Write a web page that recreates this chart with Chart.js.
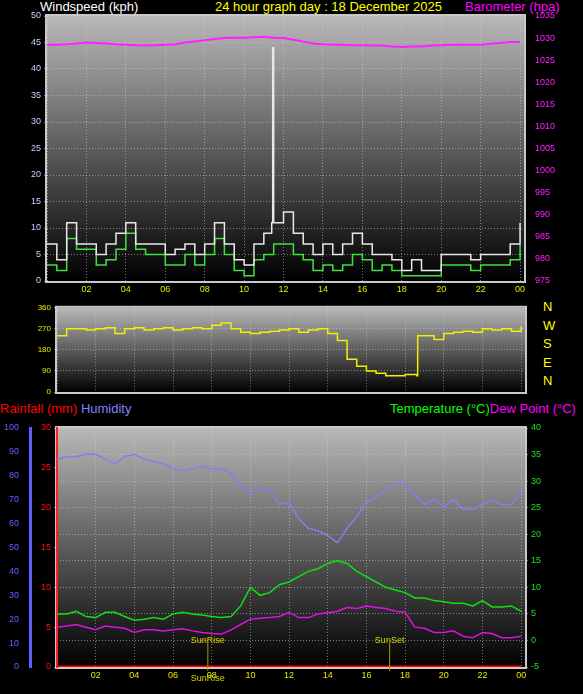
<!DOCTYPE html>
<html><head><meta charset="utf-8">
<script src="https://cdn.jsdelivr.net/npm/chart.js@4"></script>
<style>
body{margin:0;background:#000;width:583px;height:694px;overflow:hidden;position:relative;font-family:"Liberation Sans",Arial,sans-serif}
canvas{position:absolute;left:0}
.t{position:absolute;font-size:13px;white-space:nowrap}
</style></head><body>
<div class="t" style="left:40px;top:-1px;color:#fff">Windspeed (kph)</div>
<div class="t" style="left:215px;top:-1px;color:#ffff00">24 hour graph day : 18 December 2025</div>
<div class="t" style="left:465px;top:-1px;color:#ff00ff">Barometer (hpa)</div>
<div class="t" style="left:543px;top:298px;color:#ffff00;font-size:13px;line-height:18.5px">N<br>W<br>S<br>E<br>N</div>
<div class="t" style="left:0px;top:401px;color:#ff0000">Rainfall (mm) <span style="color:#8080ff">Humidity</span></div>
<div class="t" style="left:390px;top:401px;color:#00ff00">Temperature (°C)<span style="color:#ff00ff">Dew Point (°C)</span></div>
<canvas id="c1" width="583" height="300" style="top:0"></canvas>
<canvas id="c2" width="583" height="100" style="top:300px"></canvas>
<canvas id="c3" width="583" height="299" style="top:395px"></canvas>
<script>
const hours=[0,0.5,1,1.5,2,2.5,3,3.5,4,4.5,5,5.5,6,6.5,7,7.5,8,8.5,9,9.5,10,10.5,11,11.5,12,12.5,13,13.5,14,14.5,15,15.5,16,16.5,17,17.5,18,18.5,19,19.5,20,20.5,21,21.5,22,22.5,23,23.5,24];
const hourTicks=[0,2,4,6,8,10,12,14,16,18,20,22,24];
const windAvg=[3,2,8,6,6,3,4,6,9,6,5,5,3,3,5,3,5,8,5,2,1,4,5,7,7,5,4,2,3,2,3,5,4,2,3,2,1,1,1,1,3,3,3,2,3,3,3,4,7];
const gustHours=[0,0.5,1,1.5,2,2.5,3,3.5,4,4.5,5,5.5,6,6.5,7,7.5,8,8.5,9,9.5,10,10.5,11,11.4,11.45,11.5,12,12.5,13,13.5,14,14.5,15,15.5,16,16.5,17,17.5,18,18.5,19,19.5,20,20.5,21,21.5,22,22.5,23,23.5,24];
const windGust=[7,4,11,7,7,5,7,9,11,7,7,7,5,6,7,5,7,11,7,4,3,7,9,11,44,11,13,9,7,5,7,5,7,9,7,5,5,4,2,4,2,2,5,5,5,4,5,5,5,7,11];
const baro=[1028.5,1028.5,1028.6,1028.8,1029,1028.9,1028.8,1028.6,1028.5,1028.4,1028.3,1028.4,1028.5,1028.6,1029,1029.2,1029.5,1029.8,1030,1030.1,1030.1,1030.2,1030.3,1030.1,1030,1029.6,1029.2,1028.8,1028.6,1028.5,1028.5,1028.4,1028.4,1028.3,1028.3,1028.1,1028,1028.1,1028.1,1028.3,1028.4,1028.5,1028.5,1028.5,1028.5,1028.7,1028.9,1029.1,1029.1];
const windDir=[240,270,270,265,270,275,250,270,275,265,270,275,265,270,275,270,285,295,270,255,250,255,260,265,270,255,265,270,250,220,140,110,90,80,70,70,75,70,240,225,250,255,260,255,270,265,270,260,280];
const dirHours=[0,0.5,1,1.5,2,2.5,3,3.5,4,4.5,5,5.5,6,6.5,7,7.5,8,8.5,9,9.5,10,10.5,11,11.5,12,12.5,13,13.5,14,14.5,15,15.5,16,16.5,17,17.5,18,18.6,18.65,19.5,20,20.5,21,21.5,22,22.5,23,23.5,24];
const humidity=[87,88,88,89,89,87,85,88,89,87,86,85,83,82,83,84,83,83,81,76,73,75,74,68,69,62,58,57,55,52,58,63,69,71,74,77,77,72,68,70,67,70,66,66,68,70,68,68,73];
const temperature=[5,5,5.5,4.5,4.3,5.3,5.3,4.5,3.8,4,4.3,4,5,5.3,5,4.8,4.5,4.3,4.5,6.5,10,8.5,9,10.5,11,12,13,13.5,14.5,15,14.5,13,12,11,10,9.5,9,8,8,7.5,7.3,7,7,6.5,7.5,6.3,6.3,6.5,5.5];
const dewPoint=[2.5,2.7,3,2.5,2,2.7,2.5,2.3,1.5,2,2,1.8,2,2.2,1.8,1.5,1.3,1.2,2,3,4,4.2,4.3,4.5,5.3,4.3,4.3,5,5.2,5.5,6.2,6,6.5,6.2,6,5.5,5.3,2.5,2.3,1.5,1.5,1.8,0.8,0.5,1.5,1.3,0.5,0.5,0.8];
const rainfall=[0,0,0,0,0,0,0,0,0,0,0,0,0,0,0,0,0,0,0,0,0,0,0,0,0,0,0,0,0,0,0,0,0,0,0,0,0,0,0,0,0,0,0,0,0,0,0,0,0];
const sunEvents=[{label:'SunRise',hour:7.8},{label:'SunSet',hour:17.2}];

const pts=(xs,ys)=>xs.map((x,i)=>({x,y:ys[i]}));
const pad=v=>String(v%24).padStart(2,'0');
const FONT={family:'"Liberation Sans",Arial',size:9};
const bg={id:'bg',beforeDraw(c){const a=c.chartArea,x=c.ctx;const g=x.createLinearGradient(0,a.top,0,a.bottom);g.addColorStop(0,'#b8b8b8');g.addColorStop(1,'#000');x.save();x.fillStyle=g;x.fillRect(a.left,a.top,a.right-a.left,a.bottom-a.top);x.strokeStyle='#c8c8c8';x.lineWidth=2;x.strokeRect(a.left-1,a.top-1,a.right-a.left+2,a.bottom-a.top+2);x.restore();}};
const grid={color:'rgba(210,210,210,0.55)',lineWidth:1};
const xAxis=(show)=>({type:'linear',min:0,max:24.2,afterFit:s=>{s.height=show?19:8},
  afterBuildTicks:s=>{s.ticks=hourTicks.map(v=>({value:v}))},
  ticks:{display:show,color:'#e8e800',font:FONT,autoSkip:false,maxRotation:0,callback:v=>v===0?'':pad(v)},
  grid:{...grid,drawTicks:false},border:{display:false,dash:[1,2]}});
const common={responsive:false,animation:false,plugins:{legend:{display:false},tooltip:{enabled:false}},elements:{point:{radius:0}}};

new Chart(document.getElementById('c1'),{type:'line',plugins:[bg],
 data:{datasets:[
  {data:pts(hours,baro),yAxisID:'yb',borderColor:'#ff20ff',borderWidth:2},
  {data:pts(gustHours,windGust),yAxisID:'y',borderColor:'#e8e8e8',borderWidth:1.5,stepped:true},
  {data:pts(hours,windAvg),yAxisID:'y',borderColor:'#40e040',borderWidth:1.5,stepped:true}]},
 options:{...common,layout:{padding:{top:16}},scales:{
  x:xAxis(true),
  y:{position:'left',min:0,max:50,afterFit:s=>{s.width=47},ticks:{stepSize:5,color:'#c8d0ff',font:FONT},grid:{...grid,drawTicks:true,tickLength:3},border:{display:false,dash:[1,2]}},
  yb:{position:'right',min:975,max:1035,afterFit:s=>{s.width=59},ticks:{stepSize:5,color:'#ff20ff',font:FONT,callback:v=>String(v)},grid:{display:false},border:{display:false}}}}});

new Chart(document.getElementById('c2'),{type:'line',plugins:[bg],
 data:{datasets:[{data:pts(dirHours,windDir),borderColor:'#f0f000',borderWidth:1.5,stepped:true}]},
 options:{...common,layout:{padding:{top:7}},scales:{
  x:xAxis(false),
  y:{position:'left',min:0,max:360,afterFit:s=>{s.width=57},ticks:{stepSize:90,color:'#e8e800',font:{...FONT,size:8}},grid:{...grid,tickLength:3},border:{display:false,dash:[1,2]}},
  yr:{position:'right',min:0,max:360,afterFit:s=>{s.width=58},ticks:{display:false},grid:{display:false},border:{display:false}}}}});

const sun={id:'sun',afterDatasetsDraw(c){const x=c.ctx,sx=c.scales.x,st=c.scales.yt;x.save();x.font='9px "Liberation Sans",Arial';x.textAlign='center';
 sunEvents.forEach(e=>{const px=sx.getPixelForValue(e.hour);x.strokeStyle='#a0a000';x.lineWidth=1;x.beginPath();x.moveTo(px,st.getPixelForValue(-0.5));x.lineTo(px,c.chartArea.bottom+4);x.stroke();
  x.fillStyle='#d8d800';x.fillText(e.label,px,st.getPixelForValue(0)+3);
  if(e.label==='SunRise'){x.fillText(e.label,px,c.chartArea.bottom+14);}});x.restore();}};
new Chart(document.getElementById('c3'),{type:'line',plugins:[bg,sun],
 data:{datasets:[
  {data:pts(hours,humidity),yAxisID:'yh',borderColor:'#8080f0',borderWidth:1.5},
  {data:pts(hours,temperature),yAxisID:'yt',borderColor:'#10e010',borderWidth:1.5},
  {data:pts(hours,dewPoint),yAxisID:'yt',borderColor:'#e010e0',borderWidth:1.5},
  {data:pts(hours,rainfall),yAxisID:'yr',borderColor:'#ff0000',borderWidth:3}]},
 options:{...common,layout:{padding:{top:33}},scales:{
  x:{...xAxis(true),afterFit:s=>{s.height=27}},
  yh:{position:'left',weight:1,min:0,max:100,afterFit:s=>{s.width=30},ticks:{stepSize:10,color:'#6060ff',font:FONT},grid:{display:false},border:{display:true,color:'#6060ff',width:3}},
  yr:{position:'left',weight:0,min:0,max:30,afterFit:s=>{s.width=27},ticks:{stepSize:5,color:'#ff1010',font:FONT},grid:{...grid,drawOnChartArea:false,drawTicks:true,tickLength:3},border:{display:true,color:'#ff2020',width:2}},
  yt:{position:'right',min:-5,max:40,afterFit:s=>{s.width=58},ticks:{stepSize:5,color:'#20e020',font:FONT},grid:{...grid,tickLength:3},border:{display:false,dash:[1,2]}}}}});
</script></body></html>
